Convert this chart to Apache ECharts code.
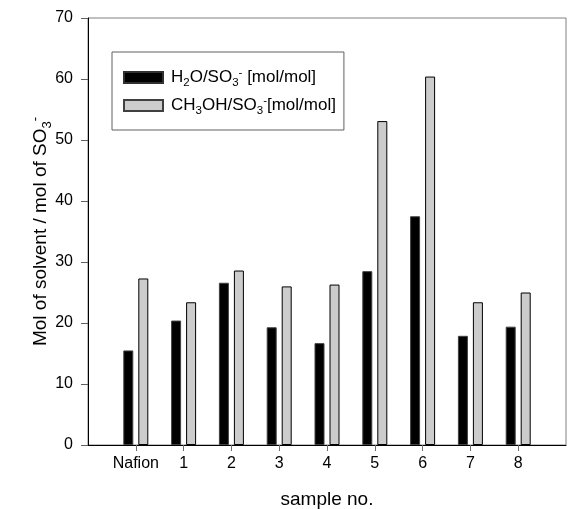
<!DOCTYPE html>
<html>
<head>
<meta charset="utf-8">
<script src="https://cdn.jsdelivr.net/npm/echarts@6/dist/echarts.min.js"></script>
<style>
  html, body { margin: 0; padding: 0; background: #fff; }
  #chart { width: 568px; height: 509px; }
</style>
</head>
<body>
<div id="chart"></div>
<script>
// sample names on the x axis
const samples = ['Nafion', '1', '2', '3', '4', '5', '6', '7', '8'];
// H2O/SO3- uptake [mol/mol]
const waterUptake = [15.5, 20.4, 26.6, 19.3, 16.7, 28.5, 37.5, 17.9, 19.4];
// CH3OH/SO3- uptake [mol/mol]
const methanolUptake = [27.3, 23.4, 28.6, 26.0, 26.3, 53.1, 60.4, 23.4, 25.0];
const seriesNames = ['H2O/SO3- [mol/mol]', 'CH3OH/SO3-[mol/mol]'];
const legendRich = {
  'H2O/SO3- [mol/mol]': 'H{sub|2}O/SO{sub|3}{sup|-} [mol/mol]',
  'CH3OH/SO3-[mol/mol]': 'CH{sub|3}OH/SO{sub|3}{sup|-}[mol/mol]'
};

const FONT = 'Liberation Sans, Arial, sans-serif';
// pad with empty slots so the axis runs one step past Nafion and 8
const xData = [''].concat(samples, ['']);
const pad = arr => [null].concat(arr, [null]);

const richStyles = {
  sub: { fontSize: 11.5, fontFamily: FONT, color: '#000', verticalAlign: 'bottom', padding: [0, 0, -3, 0] },
  sup: { fontSize: 11.5, fontFamily: FONT, color: '#000', verticalAlign: 'top', padding: [-2, 0, 0, 0] }
};

const chart = echarts.init(document.getElementById('chart'));
chart.setOption({
  animation: false,
  backgroundColor: '#fff',
  grid: {
    left: 88, top: 18, right: 2, bottom: 64,
    outerBoundsMode: 'none',
    show: true, borderColor: '#808080', borderWidth: 1
  },
  legend: {
    orient: 'vertical',
    left: 112, top: 52,
    padding: [15, 8, 13, 11],
    itemWidth: 39, itemHeight: 11, itemGap: 6,
    icon: 'rect',
    borderColor: '#606060', borderWidth: 1,
    data: [
      { name: seriesNames[0], itemStyle: { borderColor: '#303030' } },
      { name: seriesNames[1], itemStyle: { borderColor: '#404040' } }
    ],
    formatter: name => legendRich[name],
    textStyle: {
      fontSize: 17, fontFamily: FONT, color: '#000',
      padding: [0, 0, 0, 3],
      rich: richStyles
    }
  },
  xAxis: {
    type: 'category',
    data: xData,
    boundaryGap: false,
    name: 'sample no.',
    nameLocation: 'middle',
    nameGap: 45,
    nameMoveOverlap: false,
    nameTextStyle: { fontSize: 19, fontFamily: FONT, color: '#000' },
    axisLine: { lineStyle: { color: '#000', width: 1 } },
    axisTick: {
      length: 6,
      interval: (i, v) => v !== '',
      lineStyle: { color: '#707070' }
    },
    axisLabel: { interval: 0, fontSize: 16, fontFamily: FONT, color: '#000', margin: 11 },
    splitLine: { show: false }
  },
  yAxis: {
    type: 'value',
    min: 0, max: 70, interval: 10,
    name: 'Mol of solvent / mol of SO{sub|3}{sup|-}',
    nameLocation: 'middle',
    nameRotate: 90,
    nameGap: 38,
    nameMoveOverlap: false,
    nameTextStyle: { fontSize: 19, fontFamily: FONT, color: '#000', rich: {
      sub: { fontSize: 13, fontFamily: FONT, color: '#000', verticalAlign: 'bottom', padding: [0, 0, -4, 0] },
      sup: { fontSize: 13, fontFamily: FONT, color: '#000', verticalAlign: 'top', padding: [-2, 0, 0, 0] }
    } },
    axisLine: { show: true, lineStyle: { color: '#000', width: 1 } },
    axisTick: { show: true, length: 7, lineStyle: { color: '#606060' } },
    axisLabel: { fontSize: 16, fontFamily: FONT, color: '#000', margin: 15 },
    splitLine: { show: false }
  },
  series: [
    {
      name: seriesNames[0],
      type: 'bar',
      data: pad(waterUptake),
      barWidth: 10,
      barGap: '50%',
      itemStyle: { color: '#000', borderColor: '#404040', borderWidth: 1 }
    },
    {
      name: seriesNames[1],
      type: 'bar',
      data: pad(methanolUptake),
      barWidth: 10,
      itemStyle: { color: '#cccccc', borderColor: '#000', borderWidth: 1 }
    }
  ]
});
</script>
</body>
</html>
